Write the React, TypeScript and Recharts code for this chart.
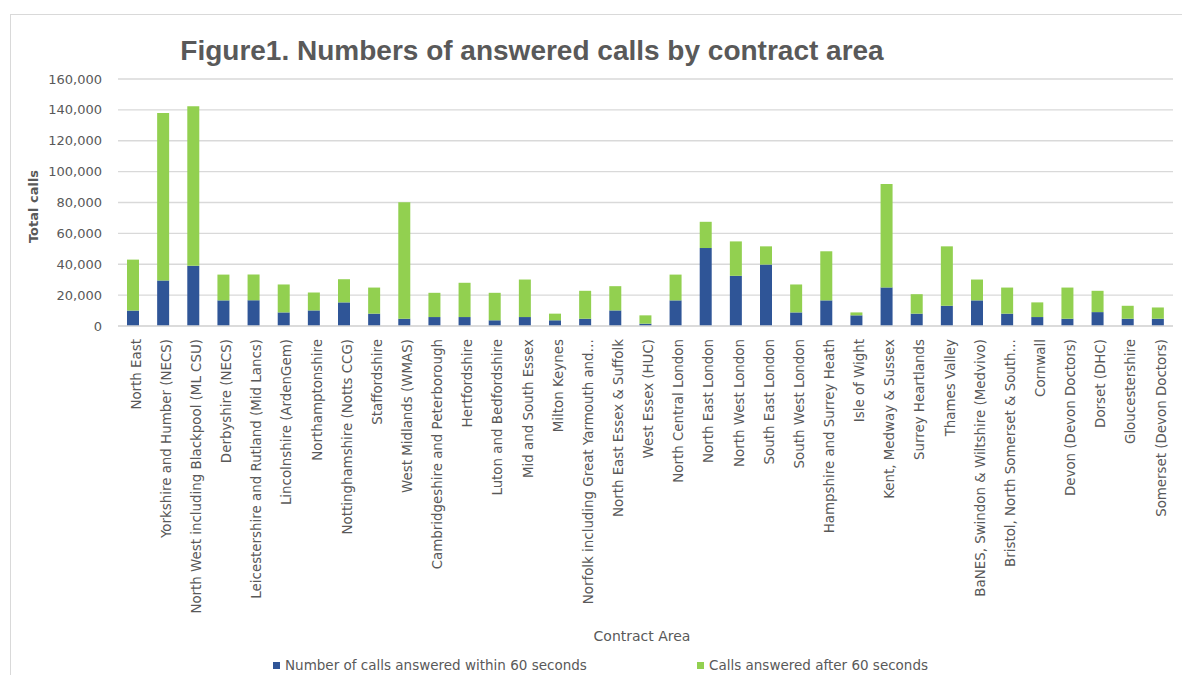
import React from 'react';
import { BarChart, Bar, XAxis, YAxis, CartesianGrid, Legend } from 'recharts';

const categories: string[] = [
  'North East',
  'Yorkshire and Humber (NECS)',
  'North West including Blackpool (ML CSU)',
  'Derbyshire (NECS)',
  'Leicestershire and Rutland (Mid Lancs)',
  'Lincolnshire (ArdenGem)',
  'Northamptonshire',
  'Nottinghamshire (Notts CCG)',
  'Staffordshire',
  'West Midlands (WMAS)',
  'Cambridgeshire and Peterborough',
  'Hertfordshire',
  'Luton and Bedfordshire',
  'Mid and South Essex',
  'Milton Keynes',
  'Norfolk including Great Yarmouth and…',
  'North East Essex & Suffolk',
  'West Essex (HUC)',
  'North Central London',
  'North East London',
  'North West London',
  'South East London',
  'South West London',
  'Hampshire and Surrey Heath',
  'Isle of Wight',
  'Kent, Medway & Sussex',
  'Surrey Heartlands',
  'Thames Valley',
  'BaNES, Swindon & Wiltshire (Medvivo)',
  'Bristol, North Somerset & South…',
  'Cornwall',
  'Devon (Devon Doctors)',
  'Dorset (DHC)',
  'Gloucestershire',
  'Somerset (Devon Doctors)',
];

// Calls answered within 60 seconds
const within60: number[] = [
  10000, 29500, 39000, 16600, 16600, 8800, 10100, 15300, 8000, 4700,
  5800, 5800, 3700, 5800, 3700, 4700, 10100, 1500, 16600, 50500,
  32500, 39800, 8800, 16600, 6900, 25000, 8000, 13100, 16600, 8000,
  5800, 4700, 9000, 4700, 4700,
];

// Total answered calls (bar heights)
const totals: number[] = [
  43000, 138000, 142400, 33300, 33300, 26900, 21700, 30300, 24900, 80200,
  21500, 28000, 21500, 30100, 8000, 22800, 25800, 6900, 33300, 67500,
  54800, 51600, 26900, 48400, 8800, 92000, 20600, 51600, 30100, 24900,
  15300, 24900, 22800, 13100, 12000,
];

const yTicks: number[] = [0, 20000, 40000, 60000, 80000, 100000, 120000, 140000, 160000];

const seriesNames = {
  within: 'Number of calls answered within 60 seconds',
  after: 'Calls answered after 60 seconds',
};

const BLUE = '#2F5597';
const GREEN = '#92D050';
const GREY = '#595959';
const FONT = '"DejaVu Sans", sans-serif';

const data = categories.map((name, i) => ({
  name,
  within: within60[i],
  after: totals[i] - within60[i],
}));

const XTick = (props: any) => {
  const { x, y, payload } = props;
  return (
    <text
      x={x + 3}
      y={y + 5}
      transform={`rotate(-90, ${x + 3}, ${y + 5})`}
      textAnchor="end"
      dy="0.35em"
      fill={GREY}
      fontSize={13.4}
      fontFamily={FONT}
    >
      {payload.value}
    </text>
  );
};

const YTick = (props: any) => {
  const { y, payload } = props;
  return (
    <text x={102} y={y} dy="0.35em" textAnchor="end" fill={GREY} fontSize={13} fontFamily={FONT}>
      {payload.value.toLocaleString('en-US')}
    </text>
  );
};

const YLabel = (props: any) => {
  const { viewBox } = props;
  const cx = 38;
  const cy = viewBox.y + viewBox.height / 2 + 4;
  return (
    <text
      x={cx}
      y={cy}
      transform={`rotate(-90, ${cx}, ${cy})`}
      textAnchor="middle"
      fill={GREY}
      fontSize={13}
      fontWeight="bold"
      fontFamily={FONT}
    >
      Total calls
    </text>
  );
};

const XLabel = (props: any) => {
  const { viewBox } = props;
  return (
    <text
      x={642}
      y={viewBox.y + viewBox.height - 10}
      textAnchor="middle"
      fill={GREY}
      fontSize={14}
      fontFamily={FONT}
    >
      Contract Area
    </text>
  );
};

const LegendContent = () => {
  const item = (color: string, label: string, left: number) => (
    <div
      style={{
        position: 'absolute',
        left,
        top: 2,
        height: 24,
        display: 'flex',
        alignItems: 'center',
        fontFamily: FONT,
        fontSize: 13.5,
        color: GREY,
        whiteSpace: 'nowrap',
      }}
    >
      <span style={{ display: 'inline-block', width: 7, height: 7, background: color, marginRight: 5 }} />
      {label}
    </div>
  );
  return (
    <div style={{ position: 'relative', width: 1182, height: 24 }}>
      {item(BLUE, seriesNames.within, 273)}
      {item(GREEN, seriesNames.after, 697)}
    </div>
  );
};

export default function App() {
  return (
    <div
      style={{
        position: 'absolute',
        left: 0,
        top: 0,
        width: 1182,
        height: 675,
        overflow: 'hidden',
        background: '#fff',
      }}
    >
      <div
        style={{
          position: 'absolute',
          left: 10,
          top: 14,
          width: 1300,
          height: 800,
          border: '1.5px solid #d9d9d9',
        }}
      />
      <div
        style={{
          position: 'absolute',
          left: 0,
          top: 33,
          width: 1064,
          textAlign: 'center',
          fontFamily: '"Liberation Sans", Arial, sans-serif',
          fontWeight: 'bold',
          fontSize: 28,
          lineHeight: '36px',
          color: GREY,
        }}
      >
        Figure1. Numbers of answered calls by contract area
      </div>
      <div style={{ position: 'absolute', left: 0, top: 0 }}>
        <BarChart
          width={1182}
          height={675}
          data={data}
          margin={{ top: 79, right: 9, left: 0, bottom: 0 }}
          barSize={12}
        >
          <CartesianGrid vertical={false} stroke="#d9d9d9" strokeWidth={1.3} />
          <XAxis
            dataKey="name"
            interval={0}
            height={325}
            axisLine={{ stroke: '#d9d9d9', strokeWidth: 1.3 }}
            tickLine={false}
            tick={<XTick />}
            label={<XLabel />}
          />
          <YAxis
            width={118}
            domain={[0, 160000]}
            ticks={yTicks}
            axisLine={false}
            tickLine={false}
            tick={<YTick />}
            label={<YLabel />}
          />
          <Legend verticalAlign="bottom" height={24} content={<LegendContent />} />
          <Bar
            dataKey="within"
            name={seriesNames.within}
            stackId="a"
            fill={BLUE}
            isAnimationActive={false}
          />
          <Bar
            dataKey="after"
            name={seriesNames.after}
            stackId="a"
            fill={GREEN}
            isAnimationActive={false}
          />
        </BarChart>
      </div>
    </div>
  );
}
